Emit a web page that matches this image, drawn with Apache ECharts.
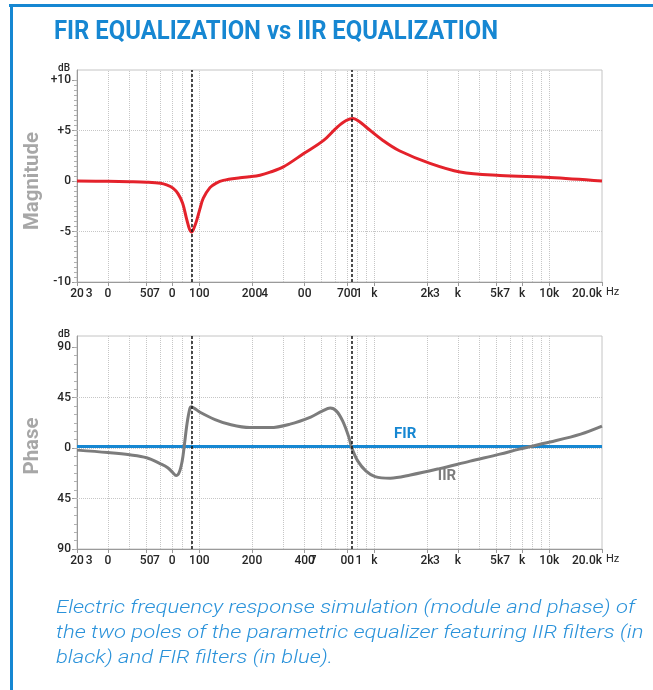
<!DOCTYPE html>
<html>
<head>
<meta charset="utf-8">
<script src="https://cdn.jsdelivr.net/npm/echarts@6/dist/echarts.min.js"></script>
<style>
  html, body { margin: 0; padding: 0; background: #ffffff; }
  #chart { width: 653px; height: 690px; }
</style>
</head>
<body>
<div id="chart"></div>
<script>
// Frequency ticks (Hz) and the label text printed under each tick
const tickHz = [20, 30, 50, 70, 100, 200, 400, 700, 1000, 2000, 3000, 5000, 7000, 10000, 20000];
const magTickLabels = ['20', '3    0', '50', '7   0', '100', '200', '4          00', '700', '1   k', '2k', '3     k', '5k', '7   k', '10k', '20.0k'];
const phaseTickLabels = ['20', '3    0', '50', '7   0', '100', '200', '400', '7        00', '1   k', '2k', '3     k', '5k', '7   k', '10k', '20.0k'];

// Dotted frequency grid (Hz)
const gridHz = [30, 40, 50, 60, 70, 80, 90, 100, 200, 300, 400, 500, 600, 700, 800, 900,
                1000, 2000, 3000, 4000, 5000, 6000, 7000, 8000, 9000, 10000];
// Centre frequencies of the two equalizer poles (dashed markers)
const poleHz = [90, 745];

// Level axes
const magTicks = [-10, -5, 0, 5, 10];
const magGridLevels = [-5, 0, 5];
const phaseTicks = [-90, -45, 0, 45, 90];
const phaseGridLevels = [-45, 0, 45];

// Magnitude response (dB)
const magHz = [20, 30, 40, 50, 60, 65, 70.7, 75.5, 80.3, 84.7, 88, 90.4, 93, 96.6, 101, 105.4, 115, 125,
               137, 171, 193, 222, 254, 302, 393, 511, 610, 690, 758, 820, 904, 1125, 1390, 2080, 3090, 5220, 10090, 20000];
const magDb = [0, -0.03, -0.07, -0.12, -0.22, -0.38, -0.7, -1.25, -2.2, -3.8, -4.8, -5.05, -4.7, -3.9, -2.7, -1.7, -0.65, -0.2,
               0.07, 0.33, 0.42, 0.58, 0.88, 1.4, 2.7, 4.0, 5.3, 6.0, 6.2, 5.9, 5.3, 4.0, 3.0, 1.75, 0.9, 0.55, 0.35, 0.0];

// IIR phase response (degrees)
const iirHz = [20, 30, 40, 50, 60, 66, 70.7, 73.6, 76.6, 79.8, 82, 85.1, 88.2, 90, 94.7, 101, 123, 150, 194, 254,
               330, 433, 504, 560, 608, 660, 715, 744, 805, 897, 1010, 1233, 1608, 2357, 3530, 5220, 6740, 10090, 15120, 20000];
const iirDeg = [-1.8, -4, -6, -8.6, -14, -17.5, -22, -24.5, -22, -11.6, 1.8, 22, 35, 36.8, 35, 32, 25.5, 21, 18.3, 18.3,
                21.4, 27.7, 33, 35.7, 33, 24, 9.8, 0, -11.6, -20.5, -25.4, -26.8, -24, -18.3, -11.6, -5.4, -0.9, 5.4, 12.5, 19.6];

// FIR phase response (degrees): flat
const firHz = [20, 20000];
const firDeg = [1.5, 1.5];

// Curve name tags: [Hz, level]
const firTag = [1500, 12.5];
const iirTag = [2600, -25];

const BLUE = '#1687d2';
const RED = '#e4222b';
const GREY = '#7c7c7c';
const AXIS = '#9a9a9a';
const INK = '#262626';
const FONT = 'Roboto, "Noto Sans", sans-serif';

const pairs = (xs, ys) => xs.map((x, i) => [x, ys[i]]);

function minorSteps(min, max, step) {
  const out = [];
  for (let v = min; v <= max + 1e-9; v += step) out.push(+v.toFixed(3));
  return out;
}

// Label text: the last word sits centred on its tick; the last tick label ends at the axis end.
function freqFormatter(labels) {
  return function (value) {
    let idx = -1;
    for (let i = 0; i < tickHz.length; i++) {
      if (Math.abs(Math.log10(value / tickHz[i])) < 0.005) { idx = i; break; }
    }
    if (idx < 0) return '';
    const text = labels[idx];
    if (idx === tickHz.length - 1) return '{v|' + text + '}{h|' + text + '}';
    const m = text.match(/^(.*\s)(\S+)$/);
    if (!m) return '{v|' + text + '}';
    return '{v|' + text + '}{h|' + m[1] + '}';
  };
}

function freqAxis(gridIndex, labels) {
  return {
    type: 'log', logBase: 10, gridIndex: gridIndex, min: 20, max: 20000,
    name: 'Hz', nameLocation: 'end', nameGap: 4, nameMoveOverlap: false,
    nameTextStyle: { color: INK, fontSize: 11, fontFamily: FONT, verticalAlign: 'top', padding: [5, 0, 0, 0] },
    axisLine: { show: true, onZero: false, lineStyle: { color: AXIS, width: 1 } },
    axisTick: { show: true, customValues: tickHz, length: 4, lineStyle: { color: AXIS } },
    axisLabel: {
      show: true, customValues: tickHz, margin: 6, formatter: freqFormatter(labels),
      rich: {
        v: { color: INK, fontSize: 12, fontFamily: FONT, fontWeight: 500 },
        h: { color: 'rgba(0,0,0,0)', fontSize: 12, fontFamily: FONT, fontWeight: 500 }
      }
    },
    splitLine: { show: false },
    minorTick: { show: false },
    minorSplitLine: { show: false }
  };
}

function levelAxis(gridIndex, min, max, ticks, fmt) {
  return {
    type: 'value', gridIndex: gridIndex, position: 'left', min: min, max: max,
    name: 'dB', nameLocation: 'end', nameGap: -3, nameMoveOverlap: false,
    nameTextStyle: { align: 'right', padding: [0, 7, 0, 0], fontSize: 10, color: INK, fontFamily: FONT, fontWeight: 500 },
    axisLine: { show: true, onZero: false, lineStyle: { color: AXIS } },
    axisTick: { show: true, customValues: ticks, length: 5, lineStyle: { color: AXIS } },
    axisLabel: { show: true, customValues: ticks, margin: 6, formatter: fmt, color: INK, fontSize: 12, fontFamily: FONT, fontWeight: 500 },
    splitLine: { show: false }
  };
}

function minorAxis(gridIndex, min, max, values) {
  return {
    type: 'value', gridIndex: gridIndex, position: 'left', min: min, max: max,
    axisLine: { show: false, onZero: false },
    axisTick: { show: true, customValues: values, length: 3, lineStyle: { color: '#b0b0b0' } },
    axisLabel: { show: false },
    splitLine: { show: false }
  };
}

function gridLines(xAxisIndex, yAxisIndex, levels) {
  return {
    type: 'line', xAxisIndex: xAxisIndex, yAxisIndex: yAxisIndex, data: [], silent: true,
    markLine: {
      z: 1, silent: true, symbol: ['none', 'none'], animation: false,
      label: { show: false },
      lineStyle: { color: '#c6c6c6', width: 1, type: [1, 1] },
      data: gridHz.map(f => ({ xAxis: f })).concat(levels.map(v => ({ yAxis: v })))
    }
  };
}

function poleLines() {
  return {
    z: 6, silent: true, symbol: ['none', 'none'], animation: false,
    label: { show: false },
    lineStyle: { color: '#111111', width: 1.5, type: [3, 2] },
    data: poleHz.map(f => ({ xAxis: f }))
  };
}

function tag(coord, text, color) {
  return {
    symbol: 'circle', symbolSize: 1, silent: true, animation: false,
    itemStyle: { color: 'rgba(0,0,0,0)' },
    label: { show: true, position: 'inside', formatter: text, color: color, fontSize: 15, fontWeight: 'bold', fontFamily: FONT },
    data: [{ coord: coord }]
  };
}

// Width-fitting for the condensed headline and side titles
const measureCtx = document.createElement('canvas').getContext('2d');
function fitScale(text, font, width) {
  measureCtx.font = font;
  return width / measureCtx.measureText(text).width;
}

const titleText = 'FIR EQUALIZATION vs IIR EQUALIZATION';
const titleFont = 'bold 26px Roboto';
const sideFont = 'bold 20px Roboto';
const captionLines = [
  'Electric frequency response simulation (module and phase) of',
  'the two poles of the parametric equalizer featuring IIR filters (in',
  'black) and FIR filters (in blue).'
];
const captionFont = 'italic 300 18px Roboto';

const chart = echarts.init(document.getElementById('chart'), null, { renderer: 'canvas' });

chart.setOption({
  animation: false,
  backgroundColor: '#ffffff',
  grid: [
    { left: 77, right: 51, top: 70, height: 212, show: true, borderColor: '#c4c4c4', borderWidth: 1, backgroundColor: 'transparent' },
    { left: 77, right: 51, top: 336, height: 213, show: true, borderColor: '#c4c4c4', borderWidth: 1, backgroundColor: 'transparent' }
  ],
  xAxis: [freqAxis(0, magTickLabels), freqAxis(1, phaseTickLabels)],
  yAxis: [
    levelAxis(0, -10, 11, magTicks, v => (v > 0 ? '+' + v : String(v))),
    minorAxis(0, -10, 11, minorSteps(-10, 10, 0.5)),
    levelAxis(1, -90, 100, phaseTicks, v => String(Math.abs(v))),
    minorAxis(1, -90, 100, minorSteps(-90, 90, 7.5))
  ],
  series: [
    gridLines(0, 0, magGridLevels),
    {
      name: 'Magnitude', type: 'line', xAxisIndex: 0, yAxisIndex: 0, z: 3,
      data: pairs(magHz, magDb), showSymbol: false, smooth: 0.35, silent: true,
      lineStyle: { color: RED, width: 3 },
      markLine: poleLines()
    },
    gridLines(1, 2, phaseGridLevels),
    {
      name: 'FIR', type: 'line', xAxisIndex: 1, yAxisIndex: 2, z: 3,
      data: pairs(firHz, firDeg), showSymbol: false, silent: true,
      lineStyle: { color: BLUE, width: 3 },
      markPoint: tag(firTag, 'FIR', BLUE)
    },
    {
      name: 'IIR', type: 'line', xAxisIndex: 1, yAxisIndex: 2, z: 4,
      data: pairs(iirHz, iirDeg), showSymbol: false, smooth: 0.35, silent: true,
      lineStyle: { color: GREY, width: 3 },
      markLine: poleLines(),
      markPoint: tag(iirTag, 'IIR', GREY)
    }
  ],
  graphic: [
    { type: 'rect', silent: true, shape: { x: 9, y: 4, width: 644, height: 3 }, style: { fill: BLUE } },
    { type: 'rect', silent: true, shape: { x: 10, y: 4, width: 3, height: 686 }, style: { fill: BLUE } },
    {
      type: 'text', silent: true, x: 54, y: 32, scaleX: fitScale(titleText, titleFont, 444),
      style: { text: titleText, font: titleFont, fill: BLUE, align: 'left', verticalAlign: 'middle' }
    },
    {
      type: 'text', silent: true, x: 33, y: 181, rotation: Math.PI / 2, scaleX: fitScale('Magnitude', sideFont, 98),
      style: { text: 'Magnitude', font: sideFont, fill: '#a7a7a7', align: 'center', verticalAlign: 'middle' }
    },
    {
      type: 'text', silent: true, x: 33, y: 446, rotation: Math.PI / 2, scaleX: fitScale('Phase', sideFont, 57),
      style: { text: 'Phase', font: sideFont, fill: '#a7a7a7', align: 'center', verticalAlign: 'middle' }
    },
    {
      type: 'text', silent: true, x: 56, y: 596, scaleX: fitScale(captionLines[0], captionFont, 579),
      style: { text: captionLines.join('\n'), font: captionFont, lineHeight: 25, fill: '#2a92da', align: 'left', verticalAlign: 'top' }
    }
  ]
});
</script>
</body>
</html>
